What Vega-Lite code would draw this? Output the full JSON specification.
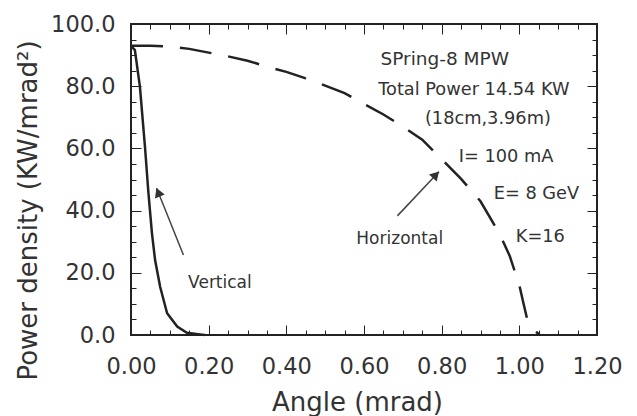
{
  "$schema": "https://vega.github.io/schema/vega-lite/v6.json",
  "width": 466,
  "height": 311,
  "autosize": {"type": "none"},
  "padding": {"left": 131, "top": 24, "right": 40, "bottom": 81},
  "background": "white",
  "config": {
    "view": {"stroke": "#222", "strokeWidth": 2},
    "axis": {"grid": false, "labelFont": "DejaVu Sans", "labelFontSize": 22.5, "labelColor": "#333", "titleFont": "DejaVu Sans", "titleFontSize": 26, "titleFontWeight": "normal", "titleColor": "#333"}
  },
  "datasets": {
    "curves": [
      {"angle": 0.0, "power": 93.0, "dir": "Horizontal"},
      {"angle": 0.05, "power": 93.0, "dir": "Horizontal"},
      {"angle": 0.10, "power": 92.8, "dir": "Horizontal"},
      {"angle": 0.15, "power": 92.0, "dir": "Horizontal"},
      {"angle": 0.20, "power": 90.8, "dir": "Horizontal"},
      {"angle": 0.25, "power": 89.6, "dir": "Horizontal"},
      {"angle": 0.30, "power": 88.2, "dir": "Horizontal"},
      {"angle": 0.35, "power": 86.3, "dir": "Horizontal"},
      {"angle": 0.40, "power": 84.6, "dir": "Horizontal"},
      {"angle": 0.45, "power": 82.5, "dir": "Horizontal"},
      {"angle": 0.50, "power": 80.2, "dir": "Horizontal"},
      {"angle": 0.55, "power": 77.8, "dir": "Horizontal"},
      {"angle": 0.60, "power": 74.3, "dir": "Horizontal"},
      {"angle": 0.65, "power": 70.9, "dir": "Horizontal"},
      {"angle": 0.70, "power": 67.0, "dir": "Horizontal"},
      {"angle": 0.75, "power": 62.8, "dir": "Horizontal"},
      {"angle": 0.80, "power": 56.5, "dir": "Horizontal"},
      {"angle": 0.85, "power": 50.2, "dir": "Horizontal"},
      {"angle": 0.90, "power": 43.0, "dir": "Horizontal"},
      {"angle": 0.95, "power": 32.3, "dir": "Horizontal"},
      {"angle": 0.975, "power": 25.5, "dir": "Horizontal"},
      {"angle": 1.00, "power": 16.0, "dir": "Horizontal"},
      {"angle": 1.01, "power": 10.5, "dir": "Horizontal"},
      {"angle": 1.02, "power": 5.2, "dir": "Horizontal"},
      {"angle": 1.035, "power": 2.0, "dir": "Horizontal"},
      {"angle": 1.052, "power": 0.0, "dir": "Horizontal"},
      {"angle": 0.0, "power": 93.0, "dir": "Vertical"},
      {"angle": 0.010, "power": 91.6, "dir": "Vertical"},
      {"angle": 0.023, "power": 79.8, "dir": "Vertical"},
      {"angle": 0.036, "power": 60.5, "dir": "Vertical"},
      {"angle": 0.045, "power": 45.5, "dir": "Vertical"},
      {"angle": 0.054, "power": 32.7, "dir": "Vertical"},
      {"angle": 0.062, "power": 24.1, "dir": "Vertical"},
      {"angle": 0.075, "power": 15.5, "dir": "Vertical"},
      {"angle": 0.093, "power": 7.0, "dir": "Vertical"},
      {"angle": 0.119, "power": 2.7, "dir": "Vertical"},
      {"angle": 0.144, "power": 0.7, "dir": "Vertical"},
      {"angle": 0.178, "power": 0.2, "dir": "Vertical"},
      {"angle": 0.19, "power": 0.0, "dir": "Vertical"}
    ],
    "notes": [
      {"label": "SPring-8 MPW", "x": 0.808, "y": 88.6, "size": "big"},
      {"label": "Total Power 14.54 KW", "x": 0.883, "y": 78.8, "size": "mid"},
      {"label": "(18cm,3.96m)", "x": 0.919, "y": 69.4, "size": "mid"},
      {"label": "I= 100 mA", "x": 0.966, "y": 57.3, "size": "mid"},
      {"label": "E= 8 GeV", "x": 1.044, "y": 45.2, "size": "mid"},
      {"label": "K=16", "x": 1.054, "y": 31.6, "size": "mid"},
      {"label": "Vertical", "x": 0.229, "y": 16.6, "size": "small"},
      {"label": "Horizontal", "x": 0.692, "y": 30.9, "size": "small"}
    ],
    "arrows": [
      {"arrow": "Vertical", "x": 0.135, "y": 25.7, "x2": 0.066, "y2": 47.2},
      {"arrow": "Horizontal", "x": 0.686, "y": 38.3, "x2": 0.793, "y2": 52.5}
    ]
  },
  "resolve": {"axis": {"x": "independent", "y": "independent"}},
  "layer": [
    {
      "data": {"name": "curves"},
      "transform": [{"filter": "datum.dir === 'Horizontal'"}],
      "mark": {"type": "line", "color": "#222", "strokeWidth": 2.5, "strokeDash": [32, 17]},
      "encoding": {
        "x": {"field": "angle", "type": "quantitative", "scale": {"domain": [0, 1.2], "nice": false},
          "axis": {"orient": "bottom", "title": "Angle (mrad)", "tickCount": 6, "format": ".2f",
            "domainColor": "#222", "tickColor": "#222",
            "tickSize": -10, "labelPadding": 30, "labelFlush": false, "labelOverlap": false, "titleX": 226, "titleY": 75, "titleBaseline": "alphabetic"}},
        "y": {"field": "power", "type": "quantitative", "scale": {"domain": [0, 100], "nice": false},
          "axis": {"orient": "left", "title": "Power density (KW/mrad²)", "tickCount": 5, "format": ".1f",
            "domainColor": "#222", "tickColor": "#222",
            "tickSize": -10, "labelPadding": 26, "labelOverlap": false, "labelFlush": false, "titleX": -103, "titleY": 186, "titleBaseline": "middle", "titleAngle": -90}}
      }
    },
    {
      "data": {"name": "curves"},
      "transform": [{"filter": "datum.dir === 'Vertical'"}],
      "mark": {"type": "line", "color": "#222", "strokeWidth": 2.5},
      "encoding": {
        "x": {"field": "angle", "type": "quantitative", "scale": {"domain": [0, 1.2], "nice": false},
          "axis": {"orient": "top", "title": null, "labels": false, "tickCount": 6, "tickSize": -10,
            "domainColor": "#222", "tickColor": "#222"}},
        "y": {"field": "power", "type": "quantitative", "scale": {"domain": [0, 100], "nice": false},
          "axis": {"orient": "right", "title": null, "labels": false, "tickCount": 5, "tickSize": -10,
            "domainColor": "#222", "tickColor": "#222"}}
      }
    },
    {
      "data": {"name": "arrows"},
      "mark": {"type": "rule", "color": "#444", "strokeWidth": 1.5},
      "encoding": {
        "x": {"field": "x", "type": "quantitative",
          "axis": {"orient": "bottom", "title": null, "labels": false, "tickCount": 24, "tickSize": -5,
            "domainColor": "#222", "tickColor": "#222"}},
        "y": {"field": "y", "type": "quantitative",
          "axis": {"orient": "left", "title": null, "labels": false, "tickCount": 20, "tickSize": -5,
            "domainColor": "#222", "tickColor": "#222"}},
        "x2": {"field": "x2"},
        "y2": {"field": "y2"}
      }
    },
    {
      "data": {"name": "arrows"},
      "transform": [{"filter": "datum.arrow === 'Vertical'"}],
      "mark": {"type": "point", "shape": "triangle-up", "filled": true, "color": "#333", "size": 110, "angle": 338, "opacity": 1, "xOffset": 1.5, "yOffset": 4},
      "encoding": {
        "x": {"field": "x2", "type": "quantitative",
          "axis": {"orient": "top", "title": null, "labels": false, "tickCount": 24, "tickSize": -5,
            "domainColor": "#222", "tickColor": "#222"}},
        "y": {"field": "y2", "type": "quantitative",
          "axis": {"orient": "right", "title": null, "labels": false, "tickCount": 20, "tickSize": -5,
            "domainColor": "#222", "tickColor": "#222"}}
      }
    },
    {
      "data": {"name": "arrows"},
      "transform": [{"filter": "datum.arrow === 'Horizontal'"}],
      "mark": {"type": "point", "shape": "triangle-up", "filled": true, "color": "#333", "size": 110, "angle": 43, "opacity": 1, "xOffset": -3, "yOffset": 3},
      "encoding": {
        "x": {"field": "x2", "type": "quantitative", "axis": null},
        "y": {"field": "y2", "type": "quantitative", "axis": null}
      }
    },
    {
      "data": {"name": "notes"},
      "mark": {"type": "text", "font": "DejaVu Sans", "color": "#333", "align": "center", "baseline": "middle"},
      "encoding": {
        "x": {"field": "x", "type": "quantitative", "axis": null},
        "y": {"field": "y", "type": "quantitative", "axis": null},
        "text": {"field": "label"},
        "size": {"field": "size", "type": "nominal", "scale": {"domain": ["big", "mid", "small"], "range": [18.5, 17, 16.5]}, "legend": null}
      }
    }
  ]
}
